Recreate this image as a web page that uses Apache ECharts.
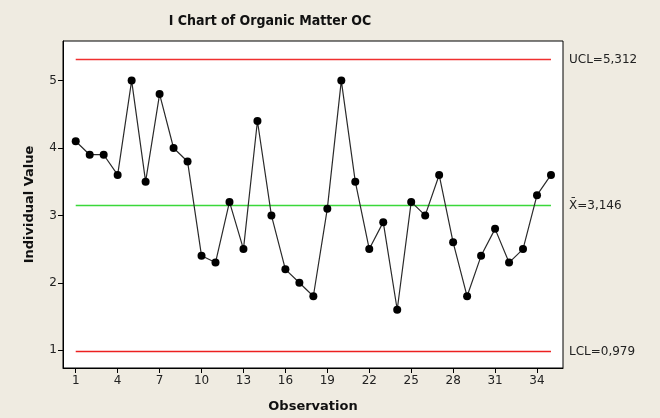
<!DOCTYPE html>
<html>
<head>
<meta charset="utf-8">
<script src="https://cdn.jsdelivr.net/npm/echarts@6/dist/echarts.min.js"></script>
<style>
  html, body { margin: 0; padding: 0; background: #EFEBE1; }
  #chart { width: 660px; height: 418px; }
</style>
</head>
<body>
<div id="chart"></div>
<script>
// Organic matter OC, individual observations
const observations = [1,2,3,4,5,6,7,8,9,10,11,12,13,14,15,16,17,18,19,20,21,22,23,24,25,26,27,28,29,30,31,32,33,34,35];
const values = [4.1,3.9,3.9,3.6,5.0,3.5,4.8,4.0,3.8,2.4,2.3,3.2,2.5,4.4,3.0,2.2,2.0,1.8,3.1,5.0,3.5,2.5,2.9,1.6,3.2,3.0,3.6,2.6,1.8,2.4,2.8,2.3,2.5,3.3,3.6];

// control limits
const ucl = 5.312;
const centerLine = 3.146;
const lcl = 0.979;

const xTicks = [1,4,7,10,13,16,19,22,25,28,31,34];
const yTicks = [1,2,3,4,5];

const fmt = v => v.toFixed(3).replace('.', ',');
const firstObs = observations[0];
const lastObs = observations[observations.length - 1];

const labelFont = { fontFamily: 'DejaVu Sans', fontSize: 12, color: '#222' };

function limitSeries(name, value, color, text) {
  return {
    type: 'line',
    name: name,
    data: [[firstObs, value], [lastObs, value]],
    symbol: 'none',
    silent: true,
    color: color,
    lineStyle: { color: color, width: 1.5 },
    endLabel: {
      show: true,
      distance: 18,
      formatter: () => text,
      ...labelFont
    },
    z: 1
  };
}

const chart = echarts.init(document.getElementById('chart'), null, { renderer: 'canvas' });
chart.setOption({
  animation: false,
  backgroundColor: '#EFEBE1',
  title: {
    text: 'I Chart of Organic Matter OC',
    left: 265, top: 9, textAlign: 'center',
    textStyle: { fontFamily: 'DejaVu Sans Condensed', fontWeight: 'bold', fontSize: 14, color: '#111' }
  },
  grid: {
    left: 63, right: 97, top: 41, bottom: 46,
    show: true, backgroundColor: '#ffffff', borderColor: '#000', borderWidth: 1
  },
  xAxis: {
    type: 'value',
    min: 0.09, max: 35.86,
    name: 'Observation',
    nameLocation: 'middle', nameGap: 32,
    nameTextStyle: { fontFamily: 'DejaVu Sans', fontWeight: 'bold', fontSize: 13, color: '#111' },
    axisLine: { show: true, lineStyle: { color: '#000' } },
    axisTick: { show: true, length: 5, customValues: xTicks, lineStyle: { color: '#000' } },
    axisLabel: { customValues: xTicks, margin: 7, ...labelFont },
    splitLine: { show: false }
  },
  yAxis: {
    type: 'value',
    min: 0.736, max: 5.587,
    name: 'Individual Value',
    nameLocation: 'middle', nameGap: 27,
    nameTextStyle: { fontFamily: 'DejaVu Sans', fontWeight: 'bold', fontSize: 13, color: '#111' },
    axisLine: { show: true, lineStyle: { color: '#000' } },
    axisTick: { show: true, length: 5, customValues: yTicks, lineStyle: { color: '#000' } },
    axisLabel: { customValues: yTicks, margin: 6, ...labelFont },
    splitLine: { show: false }
  },
  series: [
    limitSeries('UCL', ucl, '#f03030', 'UCL=' + fmt(ucl)),
    limitSeries('Mean', centerLine, '#3ad83a', 'X\u0304=' + fmt(centerLine)),
    limitSeries('LCL', lcl, '#ec2020', 'LCL=' + fmt(lcl)),
    {
      type: 'line',
      name: 'Individual Value',
      data: observations.map((o, i) => [o, values[i]]),
      symbol: 'circle',
      symbolSize: 8,
      itemStyle: { color: '#000' },
      lineStyle: { color: '#2a2a2a', width: 1.2 },
      z: 3
    }
  ]
});
</script>
</body>
</html>
